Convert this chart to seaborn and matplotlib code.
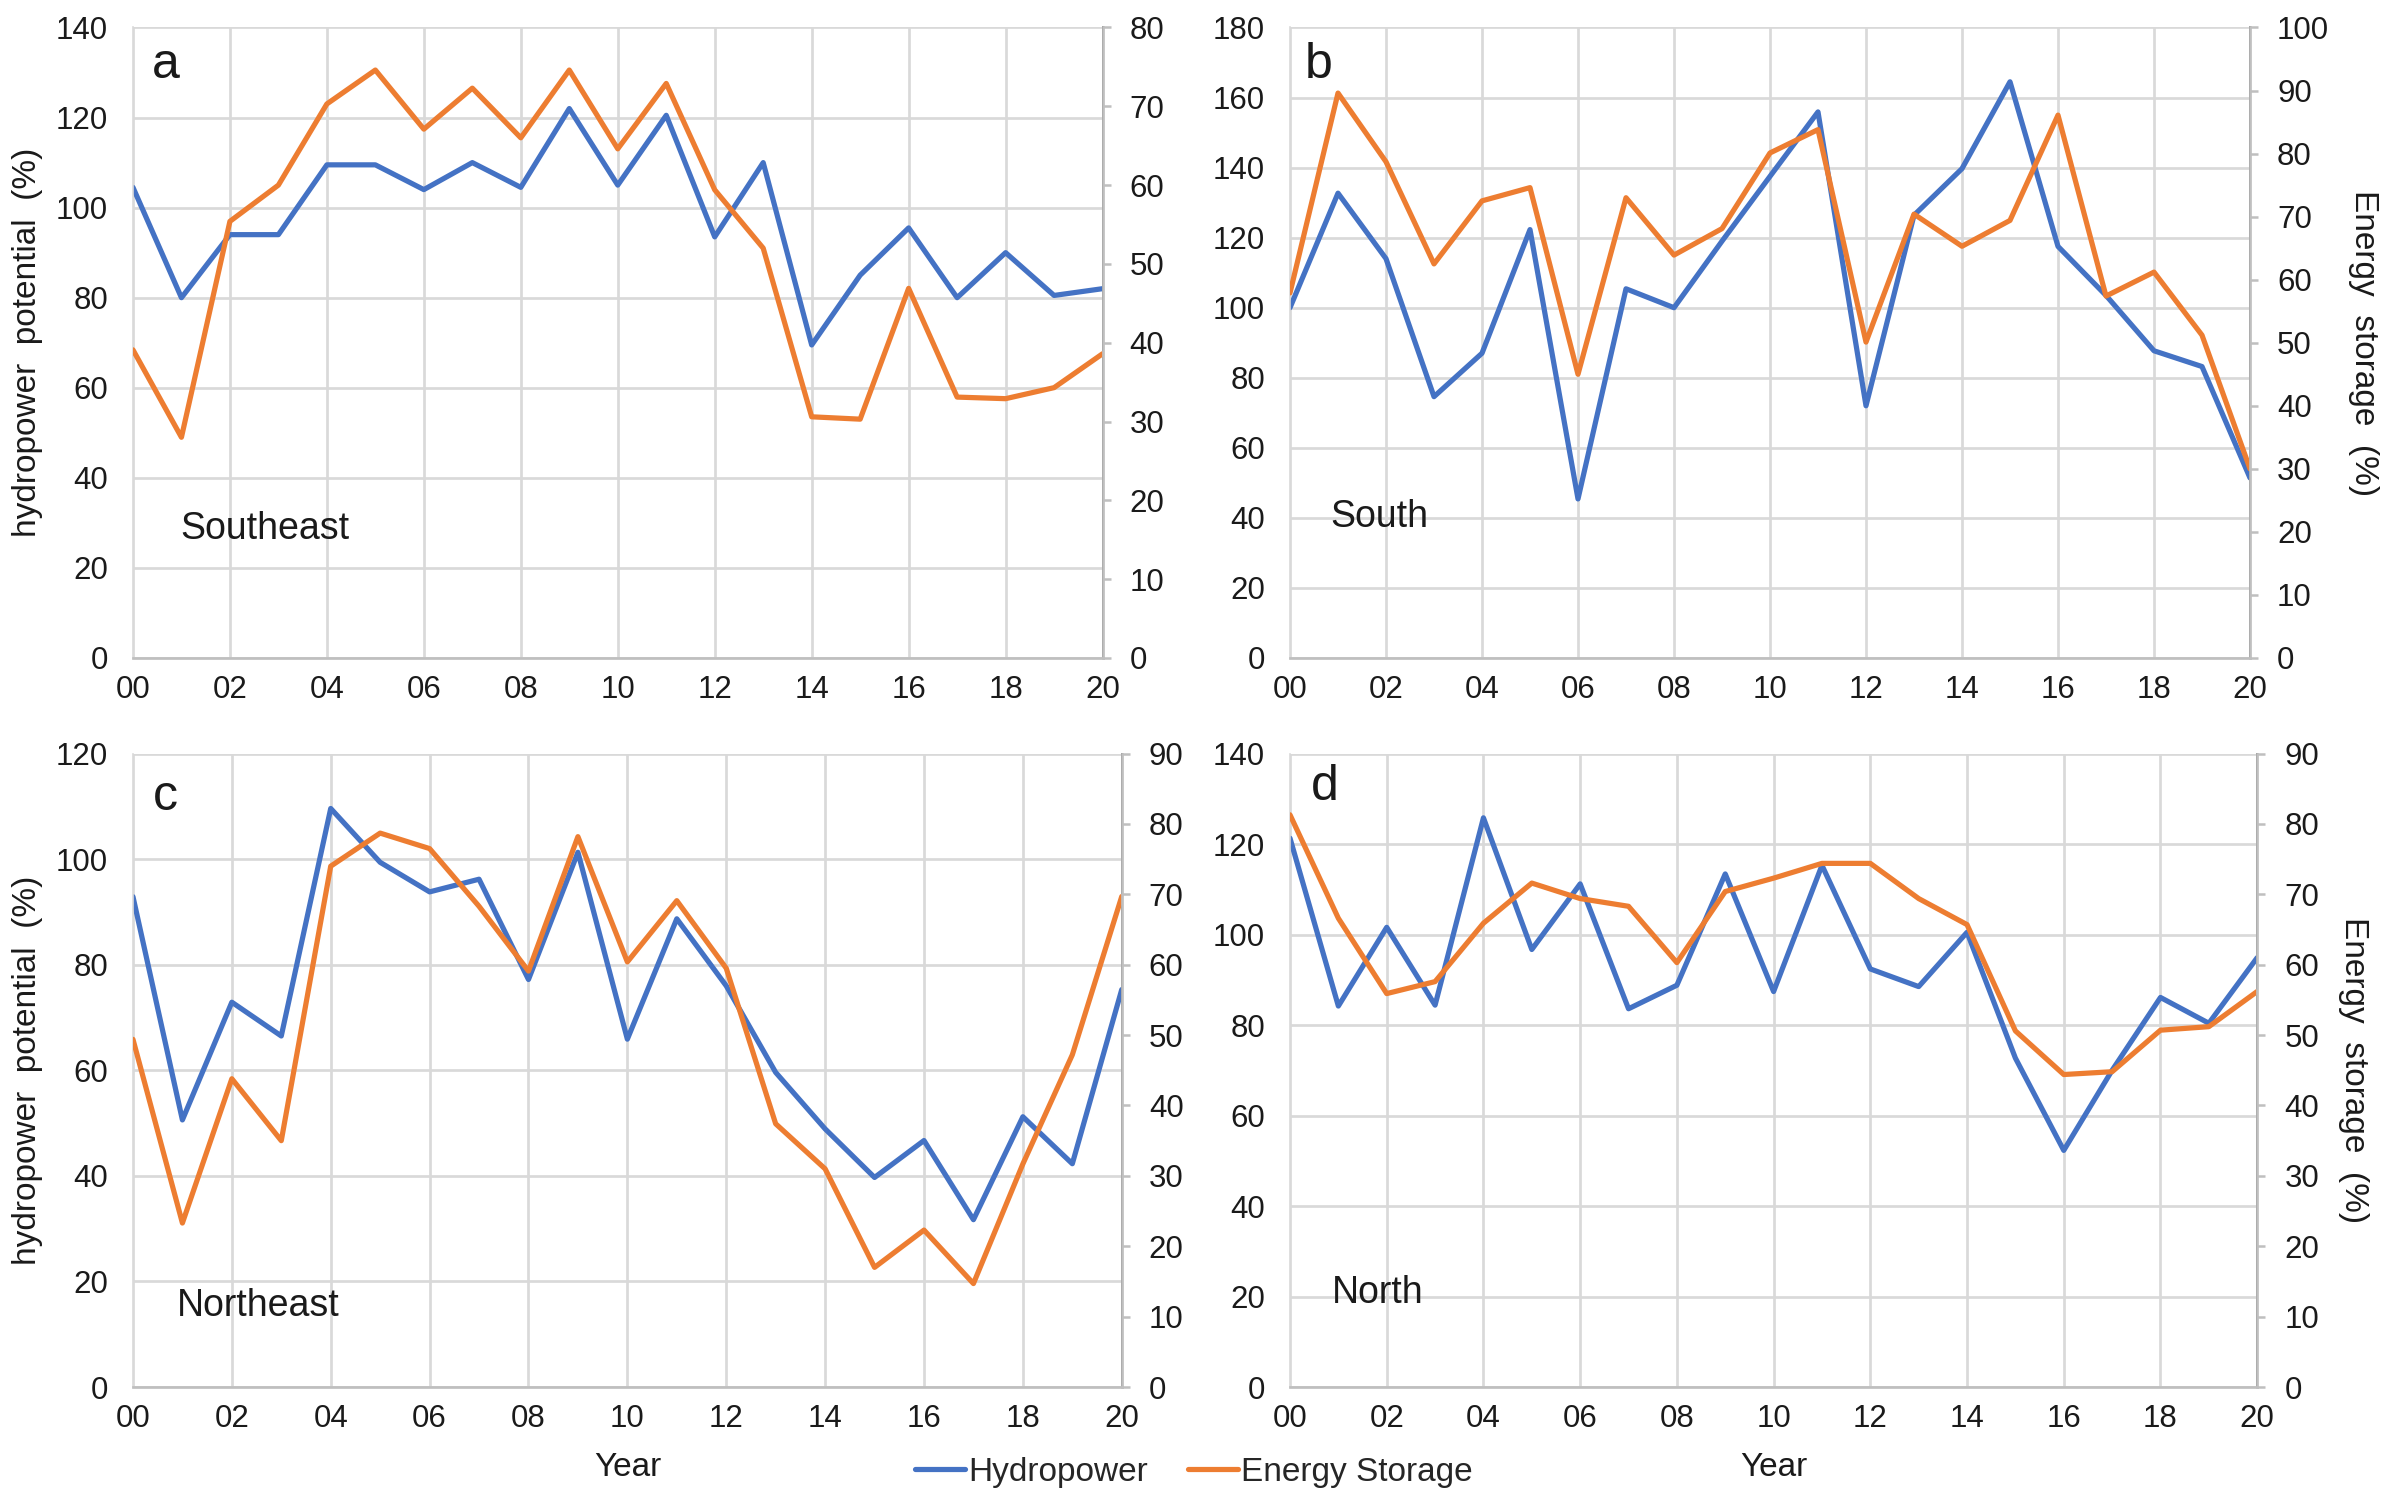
import matplotlib
matplotlib.use("Agg")
import matplotlib.pyplot as plt
import seaborn as sns

# years 2000..2020, shown as two-digit labels
years = list(range(21))
year_ticks = list(range(0, 21, 2))
year_labels = ["00", "02", "04", "06", "08", "10", "12", "14", "16", "18", "20"]

# a - Southeast
se_hydro = [104.5, 80, 94, 94, 109.5, 109.5, 104, 110, 104.5, 122, 105,
            120.5, 93.5, 110, 69.5, 85, 95.5, 80, 90, 80.5, 82]
se_storage = [39.1, 28, 55.4, 60, 70.3, 74.6, 67.1, 72.3, 66, 74.6, 64.6,
              72.9, 59.4, 52, 30.6, 30.3, 46.9, 33.1, 32.9, 34.3, 38.6]

# b - South
s_hydro = [100, 132.7, 114, 74.6, 87, 122.3, 45.4, 105.4, 100, 119, 137.5,
           155.9, 72, 126.4, 139.7, 164.5, 117.5, 103.5, 87.7, 83.2, 51.4]
s_storage = [57.9, 89.6, 78.7, 62.5, 72.5, 74.6, 45, 73, 63.9, 68.1, 80.1,
             83.8, 50.1, 70.4, 65.3, 69.4, 86.1, 57.4, 61.2, 51.2, 30]

# c - Northeast
ne_hydro = [92.9, 50.6, 72.9, 66.5, 109.6, 99.4, 93.8, 96.2, 77.2, 101.3, 65.9,
            88.7, 76, 59.6, 48.9, 39.7, 46.7, 31.7, 51.2, 42.3, 75.3]
ne_storage = [49.4, 23.3, 43.8, 35, 74, 78.7, 76.5, 68.3, 59.1, 78.2, 60.4,
              69.1, 59.5, 37.4, 31, 17, 22.3, 14.7, 31.7, 47.2, 69.7]

# d - North
n_hydro = [121.3, 84.2, 101.6, 84.4, 125.8, 96.7, 111.2, 83.6, 88.8, 113.4, 87.4,
           115.3, 92.4, 88.5, 100.5, 72.7, 52.3, 70, 86.1, 80.4, 94.9]
n_storage = [81.3, 66.6, 55.9, 57.6, 65.9, 71.6, 69.4, 68.3, 60.3, 70.4, 72.3,
             74.4, 74.4, 69.4, 65.7, 50.6, 44.4, 44.8, 50.7, 51.2, 56.2]

BLUE = "#4472C4"
ORANGE = "#ED7D31"
GRID = "#D9D9D9"
AXIS = "#BFBFBF"
TXT = "#1a1a1a"
TICK_FS = 15
LABEL_FS = 16

sns.set_style("white")
plt.rcParams["font.family"] = ["Liberation Sans", "DejaVu Sans"]
plt.rcParams["font.size"] = TICK_FS


def draw_panel(ax, hydro, storage, left_max, left_step, right_max, right_step,
               letter, letter_pos, region, region_pos):
    ax2 = ax.twinx()
    sns.lineplot(x=years, y=hydro, ax=ax, color=BLUE, lw=2.5, legend=False)
    sns.lineplot(x=years, y=storage, ax=ax2, color=ORANGE, lw=2.5, legend=False)

    ax.set_xlim(0, 20)
    ax.set_ylim(0, left_max)
    ax2.set_ylim(0, right_max)
    ax.set_xticks(year_ticks)
    ax.set_xticklabels(year_labels)
    ax.set_yticks(range(0, left_max + 1, left_step))
    ax2.set_yticks(range(0, right_max + 1, right_step))

    # excel style grid, only from the primary axis
    ax.grid(True, color=GRID, lw=1.3)
    ax.set_axisbelow(True)
    ax2.grid(False)

    ax.spines["top"].set_visible(False)
    ax2.spines["top"].set_visible(False)
    ax.spines["left"].set_color(GRID)
    ax.spines["bottom"].set_color(AXIS)
    ax.spines["bottom"].set_linewidth(1.3)
    ax2.spines["left"].set_visible(False)
    ax2.spines["bottom"].set_visible(False)
    ax2.spines["right"].set_color(AXIS)
    ax2.spines["right"].set_linewidth(1.3)

    ax.tick_params(axis="y", length=0, pad=12, labelsize=TICK_FS, labelcolor=TXT)
    ax.tick_params(axis="x", length=0, pad=8, labelsize=TICK_FS, labelcolor=TXT)
    ax2.tick_params(axis="y", length=4, width=1.2, color=AXIS, direction="out",
                    pad=9, labelsize=TICK_FS, labelcolor=TXT)

    ax.text(letter_pos[0], letter_pos[1], letter, transform=ax.transAxes,
            fontsize=24, ha="left", va="center", color=TXT)
    ax.text(region_pos[0], region_pos[1], region, transform=ax.transAxes,
            fontsize=18, ha="left", va="center", color=TXT)
    ax.set_ylabel("")
    ax2.set_ylabel("")
    return ax2


fig = plt.figure(figsize=(16, 9.96), dpi=150)
ax_a = fig.add_axes([0.0554, 0.5596, 0.404, 0.422])
ax_b = fig.add_axes([0.5375, 0.5596, 0.400, 0.422])
ax_c = fig.add_axes([0.0554, 0.0716, 0.412, 0.424])
ax_d = fig.add_axes([0.5375, 0.0716, 0.403, 0.424])

draw_panel(ax_a, se_hydro, se_storage, 140, 20, 80, 10, "a", (0.02, 0.94), "Southeast", (0.049, 0.204))
ax_b2 = draw_panel(ax_b, s_hydro, s_storage, 180, 20, 100, 10, "b", (0.015, 0.94), "South", (0.042, 0.224))
draw_panel(ax_c, ne_hydro, ne_storage, 120, 20, 90, 10, "c", (0.02, 0.932), "Northeast", (0.044, 0.128))
ax_d2 = draw_panel(ax_d, n_hydro, n_storage, 140, 20, 90, 10, "d", (0.022, 0.947), "North", (0.043, 0.148))

ylab = "hydropower  potential  (%)"
ax_a.set_ylabel(ylab, fontsize=LABEL_FS, color=TXT, labelpad=6)
ax_c.set_ylabel(ylab, fontsize=LABEL_FS, color=TXT, labelpad=6)
ax_b2.set_ylabel("Energy  storage  (%)", fontsize=LABEL_FS, color=TXT, rotation=270, labelpad=24)
ax_d2.set_ylabel("Energy  storage  (%)", fontsize=LABEL_FS, color=TXT, rotation=270, labelpad=24)
ax_c.set_xlabel("Year", fontsize=LABEL_FS, color=TXT, labelpad=9)
ax_d.set_xlabel("Year", fontsize=LABEL_FS, color=TXT, labelpad=9)

handles = [plt.Line2D([], [], color=BLUE, lw=2.5), plt.Line2D([], [], color=ORANGE, lw=2.5)]
fig.legend(handles, ["Hydropower", "Energy Storage"], loc="center", bbox_to_anchor=(0.4975, 0.0147),
           ncol=2, frameon=False, fontsize=LABEL_FS, handlelength=1.5, handletextpad=0.1,
           columnspacing=1.2)

fig.savefig("out.png", dpi=150)
